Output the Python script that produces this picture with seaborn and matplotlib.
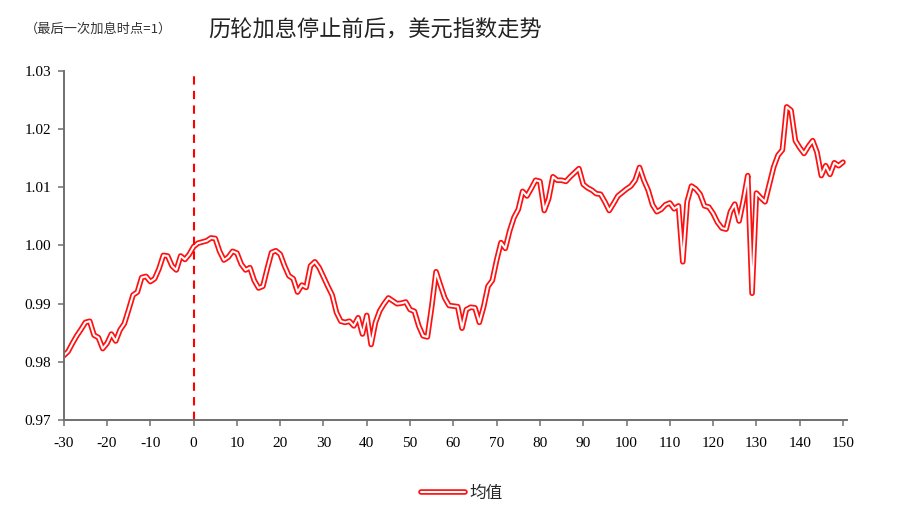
import numpy as np
import pandas as pd
import matplotlib
matplotlib.use("Agg")
import matplotlib.pyplot as plt
import seaborn as sns
from matplotlib.lines import Line2D

# Days relative to the last hike (0 = last hike), mean DXY normalised to 1
days = list(range(-30, 151))
mean_vals = [
    0.9811, 0.9818, 0.9832, 0.9845, 0.9856, 0.9868, 0.9870, 0.9846, 0.9842, 0.9823,  # -30..-21
    0.9832, 0.9848, 0.9836, 0.9855, 0.9866, 0.9890, 0.9915, 0.9920, 0.9945, 0.9947,  # -20..-11
    0.9938, 0.9943, 0.9960, 0.9983, 0.9982, 0.9965, 0.9958, 0.9982, 0.9976, 0.9985,  # -10..-1
    0.9998,                                                                          # 0
    1.0004, 1.0006, 1.0008, 1.0013, 1.0012, 0.9990, 0.9975, 0.9980, 0.9990, 0.9987,  # 1..10
    0.9968, 0.9958, 0.9962, 0.9940, 0.9927, 0.9930, 0.9960, 0.9988, 0.9991, 0.9985,  # 11..20
    0.9965, 0.9948, 0.9943, 0.9920, 0.9932, 0.9928, 0.9965, 0.9972, 0.9962, 0.9946,  # 21..30
    0.9930, 0.9915, 0.9885, 0.9870, 0.9868, 0.9870, 0.9862, 0.9876, 0.9848, 0.9880,  # 31..40
    0.9830, 0.9868, 0.9888, 0.9900, 0.9910, 0.9905, 0.9900, 0.9901, 0.9903, 0.9890,  # 41..50
    0.9887, 0.9862, 0.9845, 0.9843, 0.9895, 0.9955, 0.9932, 0.9910, 0.9897, 0.9896,  # 51..60
    0.9895, 0.9858, 0.9890, 0.9894, 0.9893, 0.9868, 0.9895, 0.9930, 0.9940, 0.9975,  # 61..70
    1.0005, 0.9995, 1.0025, 1.0048, 1.0062, 1.0093, 1.0085, 1.0098, 1.0112, 1.0110,  # 71..80
    1.0060, 1.0080, 1.0118, 1.0112, 1.0112, 1.0110, 1.0118, 1.0125, 1.0132, 1.0105,  # 81..90
    1.0099, 1.0095, 1.0089, 1.0088, 1.0075, 1.0060, 1.0072, 1.0085, 1.0091, 1.0097,  # 91..100
    1.0102, 1.0112, 1.0134, 1.0112, 1.0095, 1.0070, 1.0058, 1.0062, 1.0070, 1.0073,  # 101..110
    1.0063, 1.0068, 0.9972, 1.0075, 1.0102, 1.0097, 1.0088, 1.0068, 1.0066, 1.0055,  # 111..120
    1.0040, 1.0030, 1.0028, 1.0058, 1.0071, 1.0042, 1.0078, 1.0120, 0.9918, 1.0090,  # 121..130
    1.0082, 1.0075, 1.0105, 1.0135, 1.0155, 1.0164, 1.0238, 1.0232, 1.0180, 1.0168,  # 131..140
    1.0158, 1.0170, 1.0180, 1.0160, 1.0120, 1.0137, 1.0122, 1.0142, 1.0137, 1.0143,  # 141..150
]
x_ticks = list(range(-30, 151, 10))
y_ticks = [0.97, 0.98, 0.99, 1.00, 1.01, 1.02, 1.03]

df = pd.DataFrame({"day": days, "val": mean_vals})

sns.set_theme(style="white")
plt.rcParams['font.family'] = ['Liberation Serif', 'Noto Sans CJK SC', 'DejaVu Sans']

fig = plt.figure(figsize=(9.24, 5.24), dpi=100)
ax = fig.add_axes([0.069, 0.198, 0.848, 0.667])

# double ("compound") red line: thick red underneath, thin white on top
sns.lineplot(data=df, x="day", y="val", ax=ax, color="#ff1010", linewidth=4.0)
sns.lineplot(data=df, x="day", y="val", ax=ax, color="white", linewidth=1.5)

ax.axvline(0, color="#ff0000", linestyle=(0, (4, 3)), linewidth=1.5)

ax.set_xlim(-30, 151)
ax.set_ylim(0.97, 1.03)
ax.set_xticks(x_ticks)
ax.set_yticks(y_ticks)
ax.set_xticklabels([str(t) for t in x_ticks])
ax.set_yticklabels(["%.2f" % t for t in y_ticks])
ax.set_xlabel("")
ax.set_ylabel("")

for side in ["top", "right"]:
    ax.spines[side].set_visible(False)
for side in ["left", "bottom"]:
    ax.spines[side].set_color("#6f6f6f")
    ax.spines[side].set_linewidth(1.4)
ax.tick_params(axis="both", which="major", direction="out", length=4, width=1.1,
               color="#6f6f6f", labelsize=11, labelcolor="black",
               bottom=True, left=True)
ax.tick_params(axis="x", pad=8)
ax.tick_params(axis="y", pad=5)

fig.text(0.027, 0.945, "（最后一次加息时点=1）", fontsize=9.5,
         family=['Noto Sans CJK SC', 'DejaVu Sans'], color="#333333", va="center")
fig.text(0.225, 0.942, "历轮加息停止前后，美元指数走势", fontsize=16,
         family=['Noto Sans CJK SC', 'DejaVu Sans'], color="#222222", va="center")

h_outer = Line2D([], [], color="#ff1010", linewidth=4.0)
h_inner = Line2D([], [], color="white", linewidth=1.5)
fig.legend([(h_outer, h_inner)], ["均值"], loc="center", bbox_to_anchor=(0.5, 0.058),
           frameon=False, handlelength=2.6, handletextpad=0.3,
           prop={"family": ['Noto Sans CJK SC', 'DejaVu Sans'], "size": 12})

fig.savefig("out.png", dpi=100, facecolor="white")
